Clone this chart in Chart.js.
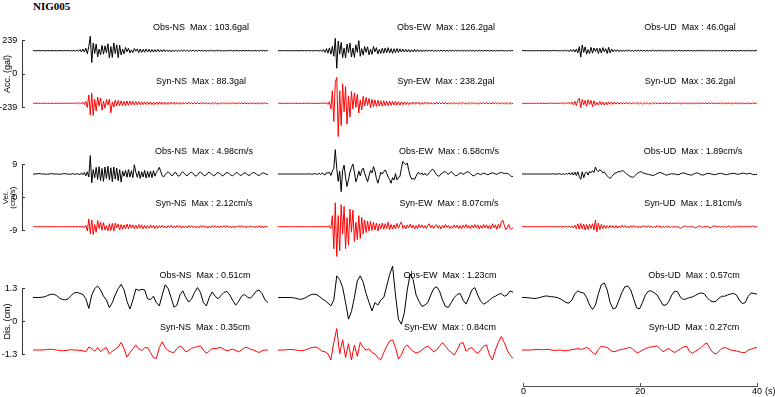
<!DOCTYPE html>
<html><head><meta charset="utf-8">
<script src="https://cdn.jsdelivr.net/npm/chart.js@4/dist/chart.umd.min.js"></script>
<style>
html,body{margin:0;padding:0;background:#fff}
#wrap{position:relative;width:775px;height:397px;overflow:hidden;background:#fff;font-family:"Liberation Sans",Arial,sans-serif}
canvas{position:absolute}
.lbl{position:absolute;font-size:9px;line-height:10px;white-space:pre;color:#000;transform:translate(-50%,-50%)}
#ttl{position:absolute;left:33px;top:0;font:bold 11px "Liberation Serif","Times New Roman",serif;line-height:13px;color:#000}
#sec{position:absolute;left:765px;top:386px;font-size:9px;line-height:10px;color:#000}
</style></head><body>
<div id="wrap"><div id="ttl">NIG005</div></div>
<script>
// ---------- data ----------
const components = ['NS', 'EW', 'UD'];
const timeTicks = [0, 20, 40];
const accDt = 0.25, velDt = 0.25, disDt = 0.5;   // sample spacing in seconds
const accTick = 239, velTick = 9, disTick = 1.3;

const accObsMax = [103.6, 126.2, 46.0];
const accSynMax = [88.3, 238.2, 36.2];
const velObsMax = [4.98, 6.58, 1.89];
const velSynMax = [2.12, 8.07, 1.81];
const disObsMax = [0.51, 1.23, 0.57];
const disSynMax = [0.35, 0.84, 0.27];

// acceleration (gal), every 0.25 s, 0..40 s
const accObsNS = [
0,1,-1,0, 1,-1,0,1, -1,0,1,-1, 0,1,-1,1, -1,0,1,-1, 1,-1,2,-1, 1,-2,1,-1,
4,-5,6,-4, 8,-9,12,-10, 18,-22,30,104, -85,55,-20,48, -45,12,-30,38,
-25,35,-15,50, -52,30,-48,56, -20,42,-50,40, -30,12,-22,24, -8,18,-16,6,
-14,16,-4,13, -14,11,-12,10, -11,12,-9,10, -11,9,-10,8, -9,10,-8,7,
-8,9,-7,6, -7,6,-8,5, -6,5,-6,4, -5,6,-4,5, -5,4,-6,4, -4,5,-4,3,
-5,4,-3,4, -4,3,-4,3, -3,4,-3,2, -3,3,-2,3, -3,2,-3,2, -2,3,-2,3,
-3,2,-2,3, -2,2,-3,2, -2,3,-2,2, -3,2,-2,2, -2,2,-3,2, -2,2,-2,1, 0];
const accSynNS = [
0,1,-1,0, 1,-1,1,0, -1,1,0,-1, 1,-1,0,1, -1,1,-1,0, 1,-1,1,-1, 1,-1,2,-1,
3,-3,4,-4, 6,-5,8,-9, 14,-30,60,-84, 72,-88,30,-55, 45,-20,38,-50,
15,-35,28,-12, 30,-68,10,-28, 22,-18,20,-17, 18,-16,15,-19, 16,-14,17,-13,
15,-12,13,-11, 12,-10,11,-9, 10,-9,10,-8, 9,-10,8,-9, 8,-9,10,-7,
9,-8,7,-8, 7,-8,9,-6, 8,-7,6,-7, 6,-7,5,-6, 6,-5,7,-5, 5,-6,5,-4,
6,-5,4,-5, 5,-4,5,-6, 4,-5,4,-4, 5,-4,3,-5, 4,-3,5,-4, 3,-4,4,-3,
4,-3,3,-4, 5,-3,3,-4, 3,-4,3,-3, 4,-3,3,-4, 3,-4,3,-3, 3,-3,4,-3, 0];
const accObsEW = [
0,1,-1,1, -1,0,1,-1, 1,-1,0,1, -1,1,-1,0, 1,-1,1,-1, 0,1,-1,1, -2,2,-1,2,
-3,5,-6,8, -12,15,-18,20, -25,30,-40,89, -126,70,-25,60, -50,20,-52,48,
-15,55,-45,20, -48,42,-12,72, -40,15,-32,30, -12,28,-30,10, -26,30,-8,22,
-24,10,-20,18, -18,20,-16,22, -17,15,-19,14, -15,16,-12,13, -10,11,-9,10,
-9,8,-10,7, -8,9,-7,8, -7,6,-8,6, -6,7,-5,6, -5,6,-5,4, -6,5,-4,5,
-4,5,-4,3, -5,4,-3,4, -4,3,-4,3, -3,4,-3,3, -4,3,-3,4, -3,3,-4,3,
-3,4,-3,2, -3,3,-2,3, -4,3,-3,2, -3,2,-3,3, -2,3,-3,2, -3,2,-2,2, 0];
const accSynEW = [
0,1,-1,0, 1,-1,1,-1, 0,1,-1,1, -1,0,1,-1, 1,-1,0,1, -1,1,-1,1, -1,1,-2,1,
-2,2,-2,3, -3,5,-8,12, -40,90,-130,150, 186,-238,90,-160, 140,-60,120,-150,
50,-100,85,-40, 75,-30,65,-70, 25,-48,50,-20, 42,-15,35,-32, 28,-25,24,-22,
22,-20,18,-21, 19,-17,16,-18, 16,-15,14,-13, 15,-13,12,-14, 11,-10,9,-10,
8,-9,7,-8, 9,-7,8,-6, 7,-8,6,-7, 8,-6,7,-6, 6,-7,5,-6, 7,-5,6,-5,
6,-5,7,-6, 5,-6,5,-4, 6,-5,4,-5, 5,-4,6,-5, 4,-5,4,-4, 5,-4,5,-4,
4,-5,4,-5, 6,-4,5,-4, 4,-5,4,-4, 5,-4,6,-4, 4,-4,5,-5, 4,-5,4,-4, 0];
const accObsUD = [
0,1,0,-1, 1,0,-1,1, 0,-1,1,0, -1,1,-2,2, -1,2,-2,1, -2,2,-1,2, -2,1,-2,2,
-3,4,-5,6, -7,8,-6,9, -10,12,-15,30, -46,41,-12,28, -25,8,-20,24,
-18,20,-6,18, -20,17,-16,22, -8,15,-20,24, -16,12,-8,7, -6,8,-7,6,
-7,5,-6,7, -5,6,-5,4, -6,5,-4,5, -4,5,-4,3, -4,3,-4,3,
-3,4,-3,2, -3,3,-2,3, -3,2,-3,2, -2,3,-2,2, -3,2,-2,3, -2,2,-3,2,
-2,3,-2,2, -2,2,-3,2, -2,2,-2,3, -2,2,-2,2, -3,2,-2,2, -2,2,-2,2,
-2,3,-2,2, -2,2,-2,2, -2,2,-3,2, -2,2,-2,2, -2,2,-2,2, -2,2,-2,1, 0];
const accSynUD = [
1,-1,1,-2, 1,-1,2,-1, 1,-2,1,-1, 2,-1,1,-2, 1,-2,2,-1, 2,-1,1,-2, 2,-2,3,-2,
4,-5,6,-5, 7,-6,10,-12, 15,-18,22,36, -31,28,-10,20, -22,25,-8,20,
-24,18,-15,6, -12,14,-11,10, -12,9,-11,10, -8,9,-7,8, -6,7,-6,5,
-7,6,-5,7, -6,5,-6,4, -5,6,-4,5, -5,4,-6,4, -4,5,-4,4,
-5,4,-3,5, -4,3,-4,4, -3,4,-3,3, -4,3,-4,3, -3,4,-3,3, -4,3,-3,4,
-3,3,-4,3, -3,4,-3,3, -4,3,-3,3, -3,3,-4,3, -3,4,-3,3, -3,3,-3,4,
-4,3,-3,3, -3,3,-4,3, -3,4,-3,3, -3,3,-3,3, -4,3,-3,3, -3,3,-3,3, 0];

// velocity (cm/s), every 0.25 s, 0..40 s
const velObsNS = [
0,0,0,0.1, 0.1,0.1,0,0, 0,-0.1,0,0, 0.1,0.1,0,0, 0,0,-0.1,0, 0,0.1,0.1,0, 0,-0.1,0,0.1,
0,-0.1,0.1,0, -0.2,0.3,-0.2,0.4, -0.5,0.6,-0.8,5.0, -2.4,1.2,-1.0,1.8, -1.5,2.0,-1.8,1.5,
-2.0,1.9,-1.2,2.1, -1.6,1.7,-2.1,1.9, -1.4,1.6,-1.8,1.2, -2.2,0.8,-0.6,1.0, -0.9,1.2,-0.8,0.9,
-1.0,2.5,0.5,-0.9, 0.8,-1.2,0.6,-0.8, 1.0,-1.1,0.7,-0.9, 0.8,-1.0,0.9,-0.6, 0.4,1.0,1.8,0.6,
-0.5,-0.8,-0.2,0.3, 0.6,0.2,-0.3,-0.5, 0.2,0.5,-0.1,-0.6, -0.4,0.3,0.6,0.2, -0.3,-0.5,0,0.4,
0.5,0.1,-0.4,-0.6, -0.2,0.3,0.5,0.2, -0.3,-0.5,-0.2,0.3, 0.5,0.2,-0.2,-0.5, -0.3,0.2,0.4,0.2,
-0.2,-0.5,-0.3,0.2, 0.4,0.3,-0.1,-0.4, -0.5,-0.1,0.3,0.4, 0,-0.4,-0.3,0.1, 0.3,0.2,-0.2,-0.4,
-0.2,0.2,0.4,0.3, 0,-0.3,-0.4,-0.1, 0.2,0.3,0.1,-0.1, -0.2];
const velSynNS = [
0,0,0,0, 0,0,0,0, 0,0,0,0, 0,0,0,0, 0,0,0,0, 0,0,0,0, 0,0,0,0, 0,0,0.05,-0.05, 0.1,-0.1,0.1,-0.2,
0.4,-1.2,2.1,-1.9, 1.8,-2.1,0.6,-1.5, 1.7,-0.5,1.2,-1.0, 1.1,-0.9,0.3,-1.1, 0.8,-1.0,0.9,-1.2,
1.0,-0.3,0.7,-0.9, 0.6,-0.7,0.5,-0.6, 0.7,-0.5,0.6,-0.4, 0.5,-0.6,0.4,-0.5, 0.6,-0.4,0.5,-0.6,
0.4,-0.5,0.3,-0.4, 0.5,-0.3,0.4,-0.5, 0.3,-0.4,0.3,-0.3, 0.4,-0.3,0.2,-0.4, 0.3,-0.2,0.4,-0.3,
0.2,-0.3,0.3,-0.2, 0.3,-0.4,0.2,-0.3, 0.2,-0.3,0.3,-0.2, 0.3,-0.2,0.2,-0.3, 0.2,-0.3,0.3,-0.2,
0.3,-0.2,0.2,-0.4, 0.2,-0.3,0.3,-0.2, 0.3,-0.2,0.2,-0.3, 0.2,-0.2,0.3,-0.2, 0.3,-0.2,0.2,-0.3,
0.2,-0.3,0.2,-0.2, 0.3,-0.2,0.3,-0.2, 0.2,-0.3,0.2,-0.2, 0.3,-0.2,0.2,-0.3, 0.2,-0.2,0.3,-0.2,
0.2,-0.3,0.2,-0.1, 0];
const velObsEW = [
0,0,0,0, 0,0,0,0, 0,0,0,0, 0,0,0,0, 0,0,0,0, 0,0.05,0,-0.05, 0,0.1,0,-0.1,
0.2,-0.1,0.3,0, -0.3,0.4,0.2,0.5, -0.4,0.8,1.5,6.6, 1.5,-2.0,0.8,-4.8, 1.0,2.4,-1.0,-3.4,
-1.5,0.5,1.8,2.7, 0.5,-2.1,-1.0,0.8, -0.5,1.0,1.6,0.2, -1.0,-2.1,-0.5,1.0, 0.3,2.0,0.8,-1.2,
-2.5,-1.0,0.5,0.0, 0.6,1.1,0.2,-0.8, -1.5,-2.5,-1.0,-1.6, 0.1,-1.6,-0.9,-0.7, 1.5,3.4,2.9,2.5,
3.0,1.0,-0.5,-1.4, -1.2,-1.5,-0.6,0.2, 0.4,-0.1,0.3,-0.3, 0.2,-0.3,-0.2,0.4, 0.8,1.3,1.1,0.4,
-0.2,-0.6,-0.5,0.1, 0.3,0.6,0.6,0.2, -0.1,0.4,0.6,0.3, -0.2,-0.5,-0.4,0, 0.3,0.2,-0.1,0.1,
0.4,0.6,0.5,0.1, -0.3,-0.5,-0.4,0, 0.2,0,-0.2,0.1, 0.2,0.1,-0.1,-0.2, 0,0.2,0.3,0.2,
0,-0.1,0.2,0.3, 0.4,0.3,0.1,0.2, 0.2,0,-0.4,-0.7, -0.6];
const velSynEW = [
0,0,0,0, 0,0,0,0, 0,0,0,0, 0,0,0,0, 0,0,0,0, 0,0,0,0, 0,0,0,0, 0,0,0,0, 0,0.1,-0.1,0.2,
-0.5,3.0,-6.0,6.5, -8.07,3.0,-6.5,6.0, -2.0,5.5,-6.0,2.5, -5.0,4.8,-1.5,4.5, -4.0,1.2,-3.5,3.0,
-3.2,2.5,-2.0,1.8, -1.6,1.5,-1.2,1.4, -1.0,1.2,-0.9,1.0, -1.2,0.8,-0.6,1.0, -0.7,0.8,-0.5,1.2,
-0.8,0.6,-0.7,0.5, -0.6,0.9,-0.4,0.6, 1.3,-0.5,0.4,-0.6, 0.5,-0.3,0.7,-0.4, 0.4,-0.6,0.3,-0.5,
0.6,-0.3,0.5,-0.4, 0.3,-0.5,0.4,0.8, -0.3,0.4,-0.5,0.3, 0.5,-0.4,0.3,-0.6, 0.4,-0.3,0.6,-0.2,
0.3,-0.5,0.2,-0.4, 0.5,-0.3,0.4,-0.5, 0.3,-0.6,0.4,-0.3, 0.6,-0.4,0.3,-0.5, 0.4,-0.3,0.6,-0.4,
0.5,-0.6,0.3,-0.4, 0.6,-0.3,0.5,-0.5, 0.4,-0.6,0.8,-0.3, 0.5,-0.7,0.6,-0.4, 1.2,1.8,0.5,-0.8,
-0.3,0.6,-0.5,-0.6, -0.3];
const velObsUD = [
0,0,0,0, 0,0,0,0, 0,0,0,0, 0,0,0,0, 0,0,0,0,
0,0.05,0,-0.05, 0,0.1,0,-0.1, 0.1,-0.2,0.2,-0.1, 0.3,-0.2,0.4,-0.3, 0.5,-0.4,0.6,-0.7,
-1.45,0.6,-1.0,0.2, 0.6,-0.3,0.7,0.3, 0.9,0.4,1.89,1.0, 0.6,1.2,0.8,0.3, 0.6,0,-0.5,-0.9,
-1.2,-0.7,-0.3,0.2, 0.3,0.5,0.7,0.6, 0.9,0.8,0.5,0.1, -0.2,-0.5,-0.7,-0.9, -0.8,-0.4,0,0.3,
0.5,0.64,0.4,0.2, 0.1,0,-0.1,-0.2, -0.3,-0.4,-0.3,-0.1, 0.1,0.3,0.4,0.3, 0.1,-0.1,-0.3,-0.25,
-0.1,0,0.1,0, 0,-0.1,-0.2,-0.1, 0.1,0.2,0.3,0.2, 0,-0.1,-0.2,-0.3, -0.2,0,0.2,0.3,
0.2,0,-0.2,-0.3, -0.2,0,0.1,0.2, 0.1,0,-0.1,-0.2, -0.1,0,0.1,0.2, 0.1,0,-0.1,-0.2,
-0.1,0,0.1,0.1, 0.2,0.1,0,-0.1, 0,0.1,0.2,0.2, 0.1,0,0.1,0.2, 0.1,-0.1,-0.2,-0.1, -0.1];
const velSynUD = [
0,0,0,0, 0,0,0,0, 0,0,0,0, 0,0,0,0, 0,0,0,0,
0.05,-0.05,0.05,-0.05, 0.1,-0.1,0.1,-0.1, 0.1,-0.15,0.2,-0.1, 0.2,-0.3,0.2,-0.3, 0.4,-0.6,0.8,-0.7,
0.9,-0.6,0.7,-0.9, 0.6,-0.8,0.7,-0.5, 0.8,-0.9,1.81,-1.4, 1.0,-0.8,0.6,-0.5, 0.4,-0.5,0.3,-0.4,
0.4,-0.3,0.3,-0.4, 0.3,-0.4,0.2,-0.3, 0.4,-0.2,0.3,-0.3, 0.2,-0.3,0.3,-0.2, 0.3,-0.2,0.2,-0.3,
0.2,-0.3,0.3,-0.1, 0.2,-0.2,0.3,-0.2, 0.2,-0.3,0.1,-0.2, 0.3,-0.1,0.2,-0.3, 0.1,-0.2,0.2,-0.1,
0.2,-0.3,0.1,-0.2, 0.1,-0.2,0.2,-0.3, -0.4,-0.2,0.1,0.2, 0.1,-0.2,0.1,-0.1, 0.2,-0.1,-0.3,-0.2,
0.1,0.2,0,-0.2, 0.1,-0.1,0.2,-0.1, -0.3,-0.2,0.1,0.2, 0.1,-0.1,0.2,-0.2, 0.1,-0.1,0.1,-0.2,
0.1,0.2,-0.1,-0.1, 0.1,-0.1,0.1,-0.1, 0.2,-0.1,0.1,-0.1, 0.1,-0.1,0.2,-0.1, 0.1,0.2,0,-0.1, 0.1];

// displacement (cm), every 0.5 s, 0..40 s
const disObsNS = [
0,0,0,0.01,0.03,0.08,0.12,0.13,0.08,-0.02,
-0.08,-0.09,-0.05,0.08,0.18,0.2,0.16,0.12,-0.05,-0.43,
0.1,0.35,0.45,0.3,0.05,-0.1,-0.4,-0.2,0.1,0.35,
0.51,0.3,-0.15,-0.45,-0.1,0.33,0.28,0.32,0.3,-0.05,
-0.08,0.05,-0.2,-0.33,0.1,0.5,0.35,0,-0.38,-0.3,
0.1,0.26,0,-0.18,-0.05,0.2,0.39,0.2,-0.2,-0.33,
0,0.22,0.05,-0.05,0.08,0.2,0.24,0.1,-0.12,-0.3,
-0.15,0.05,0.12,0.02,-0.03,0.1,0.25,0.29,0.15,-0.1,
-0.2];
const disSynNS = [
0,0,0,0,0.01,0.02,0.03,0.02,0,-0.02,
-0.03,-0.02,0,0.01,0,0,-0.02,-0.03,-0.07,0.12,
0.05,-0.05,0.1,-0.06,0.03,0.1,-0.16,-0.05,0.03,0.12,
0.3,0.05,-0.28,-0.1,0.05,0.2,0.05,-0.02,0.08,0.1,
-0.1,-0.3,-0.33,0.1,0.32,0.1,-0.03,-0.08,-0.1,0.05,
0.16,0.08,-0.07,-0.02,0.07,0.1,0.14,0.16,0,-0.13,
-0.05,0.07,0.05,0.08,0.1,0.02,-0.03,0,0.03,-0.02,
-0.07,0,0.08,0.1,0.03,0,-0.05,-0.1,-0.03,0,
0];
const disObsEW = [
0,0,0,0,0,-0.01,-0.03,-0.06,-0.07,-0.03,
0.03,0.1,0.13,0.12,0.05,-0.05,-0.12,-0.22,-0.33,-0.1,
0.85,0.7,0.4,-0.2,-0.85,-0.55,0,0.65,0.85,0.6,
0.15,-0.2,-0.53,-0.2,-0.3,-0.1,0,0.45,0.9,1.23,
0.1,-0.85,-1.05,-0.6,0.3,0.92,0.7,0.1,-0.15,-0.35,
-0.3,-0.2,0.1,0.35,0.42,0.25,-0.1,-0.35,-0.39,-0.2,
0,0.12,0.16,-0.1,-0.26,0,0.3,0.39,0.1,-0.15,
-0.26,-0.2,-0.1,0,0.05,0.12,0.16,0.05,0.1,0.26,
0.2];
const disSynEW = [
0,0,0,0.01,0.02,0.02,0,-0.02,-0.03,-0.01,
0.03,0.08,0.1,0.12,0.05,-0.05,-0.07,-0.15,-0.39,0.3,
0.84,-0.15,0.4,-0.3,0.25,-0.39,0.2,-0.25,0.3,0.1,
0,0.05,-0.1,-0.15,-0.3,-0.39,-0.1,0.15,0.35,0.4,
0.1,-0.35,-0.2,0.1,0.2,0.05,-0.05,-0.12,-0.08,0,
0.1,0.15,0.05,-0.07,0,0.15,0.29,0.15,0,-0.1,
-0.2,0,0.25,0.3,-0.05,0.05,0.1,-0.05,-0.13,0,
0.15,0.2,-0.2,-0.39,0,0.3,0.53,0.3,0,-0.2,
-0.33];
const disObsUD = [
0,0,-0.01,-0.02,-0.04,-0.03,0,0.03,0.06,0.05,
0.03,0.02,0,-0.05,-0.12,-0.2,-0.22,-0.1,0.15,0.26,
0.2,0.18,0,-0.3,-0.47,-0.3,0.15,0.5,0.57,0.3,
-0.2,-0.45,-0.4,-0.1,0.2,0.42,0.45,0.3,-0.05,-0.4,
-0.45,-0.2,0.1,0.25,0.26,0.18,0.1,-0.1,-0.3,-0.3,
-0.15,0.1,0.25,0.22,0,-0.08,-0.05,0,0.02,0.08,
0.15,0.18,0.15,0,-0.12,-0.17,-0.15,-0.03,0.05,0.05,
0.1,0.14,0.16,0.1,-0.1,-0.24,-0.2,0.05,0.18,0.16,
0.13];
const disSynUD = [
0,0,0,0,0.01,0.02,0.02,0.01,0.02,0.03,
0,-0.02,-0.01,0,-0.02,-0.03,-0.01,0.02,0.03,0.06,
0.02,0.05,0.1,0.04,-0.1,-0.17,0.02,0.16,0.12,0.1,
0,-0.07,-0.05,0,0.02,0.05,0.08,0.1,0,-0.1,
-0.08,0,0.05,0.1,0.12,0.14,0.16,0.05,-0.07,0,
0.06,-0.04,-0.1,-0.02,0.05,0.12,0.15,-0.05,-0.13,-0.05,
0.02,0.1,0.22,0.27,0.05,-0.1,-0.16,-0.05,0.06,0.1,
0.05,0,-0.02,-0.04,-0.07,-0.1,-0.1,0,0.03,0.08,
0.1];

// ---------- layout / style ----------
const FONT = '"Liberation Sans", Arial, sans-serif';
const colStarts = [33, 278, 522];
const SPAN_PX = 235, SPAN_S = 40;
const PX_PER_S = SPAN_PX / SPAN_S;
const AXIS_X = 22;
const rowLayout = [
  {top:40.7, bot:107.3, obsBase:50.7, synBase:103.3, cTop:18, cBot:150, obsY:27, synY:81, dx:168},
  {top:164.5, bot:230.8, obsBase:174, synBase:226.7, cTop:140, cBot:262, obsY:151, synY:203, dx:171},
  {top:288.3, bot:354.5, obsBase:297.5, synBase:350, cTop:255, cBot:378, obsY:275, synY:327, dx:172}
];
const quantities = [
  {title:'Acc. (gal)', unit:'gal', tick:accTick, dt:accDt, digits:1,
   obs:[accObsNS, accObsEW, accObsUD], syn:[accSynNS, accSynEW, accSynUD], obsMax:accObsMax, synMax:accSynMax},
  {title:['Vel.', '(cm/s)'], unit:'cm/s', tick:velTick, dt:velDt, digits:2,
   obs:[velObsNS, velObsEW, velObsUD], syn:[velSynNS, velSynEW, velSynUD], obsMax:velObsMax, synMax:velSynMax},
  {title:'Dis. (cm)', unit:'cm', tick:disTick, dt:disDt, digits:2,
   obs:[disObsNS, disObsEW, disObsUD], syn:[disSynNS, disSynEW, disSynUD], obsMax:disObsMax, synMax:disSynMax}
];

const wrap = document.getElementById('wrap');
function addCanvas(left, top, w, h) {
  const c = document.createElement('canvas');
  c.width = w; c.height = h;
  c.style.left = left + 'px'; c.style.top = top + 'px';
  c.style.width = w + 'px'; c.style.height = h + 'px';
  wrap.appendChild(c);
  return c;
}
function addLabel(text, cx, cy) {
  const d = document.createElement('div');
  d.className = 'lbl';
  d.textContent = text;
  d.style.left = cx + 'px'; d.style.top = cy + 'px';
  wrap.appendChild(d);
}
function toPoints(arr, dt) { return arr.map((v, i) => ({x: i * dt, y: v})); }

quantities.forEach((q, r) => {
  const L = rowLayout[r];
  const h = L.bot - L.top, span = 2 * q.tick;
  const obsMaxV = (L.obsBase - L.top) / h * span;
  const synMaxV = (L.synBase - L.top) / h * span;
  components.forEach((comp, c) => {
    const first = c === 0;
    const cs = colStarts[c];
    const left = first ? 0 : cs - 4;
    const right = cs + SPAN_PX + 4;
    const W = right - left, H = L.cBot - L.cTop;
    const cv = addCanvas(left, L.cTop, W, H);
    const scales = {
      x: {type:'linear', display:false, min: first ? -(cs - AXIS_X) / PX_PER_S : 0, max: SPAN_S},
      yObs: {type:'linear', display:false, min: obsMaxV - span, max: obsMaxV},
      ySyn: {type:'linear', display:false, min: synMaxV - span, max: synMaxV}
    };
    if (first) {
      const multi = Array.isArray(q.title);
      scales.yAx = {
        type:'linear', position:'left', min:-q.tick, max:q.tick,
        afterBuildTicks: s => { s.ticks = [-q.tick, 0, q.tick].map(v => ({value:v})); },
        afterFit: s => { s.width = AXIS_X; },
        grid: {drawOnChartArea:false, drawTicks:true, tickLength:-3, color:'#333', lineWidth:1},
        border: {display:true, color:'#333', width:1},
        ticks: {padding:7.7, color:'#000', font:{family:FONT, size:9}, callback: v => String(v)},
        title: {display:true, text:q.title, color:'#000',
                font: multi ? {family:FONT, size:8, lineHeight:'7px'} : {family:FONT, size:9},
                padding: {top: multi ? 2.5 : 2.6, bottom:0}}
      };
    }
    new Chart(cv, {
      type:'line',
      data:{datasets:[
        {data:toPoints(q.obs[c], q.dt), xAxisID:'x', yAxisID:'yObs', borderColor:'#000', borderWidth:1,
         pointRadius:0, tension:0, fill:false, clip:false},
        {data:toPoints(q.syn[c], q.dt), xAxisID:'x', yAxisID:'ySyn', borderColor:'#ff0000', borderWidth:1,
         pointRadius:0, tension:0, fill:false, clip:false}
      ]},
      options:{
        responsive:false, animation:false, events:[],
        layout:{padding:{left: first ? 0 : 4, right:4, top:L.top - L.cTop, bottom:L.cBot - L.bot}},
        plugins:{legend:{display:false}, tooltip:{enabled:false}, title:{display:false}},
        scales
      }
    });
    const cx = cs + L.dx;
    addLabel('Obs-' + comp + '  Max : ' + q.obsMax[c].toFixed(q.digits) + q.unit, cx, L.obsY);
    addLabel('Syn-' + comp + '  Max : ' + q.synMax[c].toFixed(q.digits) + q.unit, cx, L.synY);
  });
});

// time axis under the right column
(function () {
  const cs = colStarts[2];
  const cv = addCanvas(cs - 4, 360, SPAN_PX + 4 + 11, 37);
  new Chart(cv, {
    type:'line', data:{datasets:[]},
    options:{
      responsive:false, animation:false, events:[],
      layout:{padding:{left:4, right:11, top:5, bottom:0}},
      plugins:{legend:{display:false}, tooltip:{enabled:false}},
      scales:{
        x:{type:'linear', position:'bottom', min:0, max:SPAN_S,
           afterBuildTicks: s => { s.ticks = timeTicks.map(v => ({value:v})); },
           afterFit: s => { s.height = 11; },
           grid:{drawOnChartArea:false, drawTicks:true, tickLength:-3, color:'#555'},
           border:{display:true, color:'#555', width:1},
           ticks:{padding:3, color:'#000', font:{family:FONT, size:9}, maxRotation:0, autoSkip:false,
                  callback: v => String(v)}},
        y:{display:false, min:0, max:1}
      }
    }
  });
  const s = document.createElement('div');
  s.id = 'sec'; s.textContent = '(s)';
  wrap.appendChild(s);
})();
</script>
</body></html>
